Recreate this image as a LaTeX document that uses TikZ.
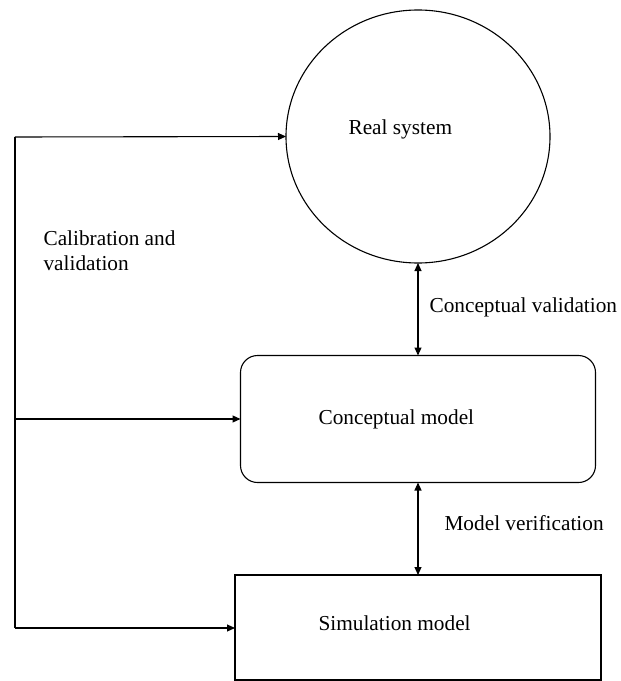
\documentclass[tikz,border=0pt]{standalone}
\usepackage{fontspec}
\setmainfont{Liberation Serif}
\usetikzlibrary{shapes.geometric,arrows.meta}
\begin{document}
\begin{tikzpicture}[x=1bp,y=-1bp,
  line width=1.1bp,
  shapebox/.style={draw=black, line width=1.1bp, inner sep=0pt, outer sep=0pt},
  lbl/.style={anchor=base west, inner sep=0pt, font=\fontsize{21.3bp}{25bp}\selectfont},
  conn/.style={line width=1.1bp, -{Triangle[length=8bp,width=7bp]}},
  dconn/.style={line width=1.1bp, {Triangle[length=8bp,width=7bp]}-{Triangle[length=8bp,width=7bp]}}]
\useasboundingbox (0,0) rectangle (621,681);
% shapes
\node[shapebox, ellipse, minimum width=264bp, minimum height=253bp] (rs) at (418,136.5) {};
\node[shapebox, rectangle, rounded corners=17bp, minimum width=355bp, minimum height=127bp] (cm) at (418,419) {};
\node[shapebox, rectangle, minimum width=366bp, minimum height=105bp] (sm) at (418,627.5) {};
% texts
\node[lbl] (trs) at (348,135) {Real system};
\node[lbl] (tcm) at (318,424) {Conceptual model};
\node[lbl] (tsm) at (318,630) {Simulation model};
\node[lbl] (tcv) at (429,312) {Conceptual validation};
\node[lbl] (tmv) at (444,530) {Model verification};
\node[lbl, align=left, anchor=north west] (tcal) at (43,230) {Calibration and\\validation};
% connectors
\coordinate (tl) at (15,137);
\coordinate (ml) at (15,419);
\coordinate (bl) at (15,628);
\draw[line width=1.1bp] (bl) -- (tl);
\draw[conn] (tl) -- (rs.west);
\draw[conn] (ml) -- (cm.west);
\draw[conn] (bl) -- (bl -| sm.west);
\draw[dconn] (rs.south) -- (cm.north);
\draw[dconn] (cm.south) -- (sm.north);
\end{tikzpicture}
\end{document}
